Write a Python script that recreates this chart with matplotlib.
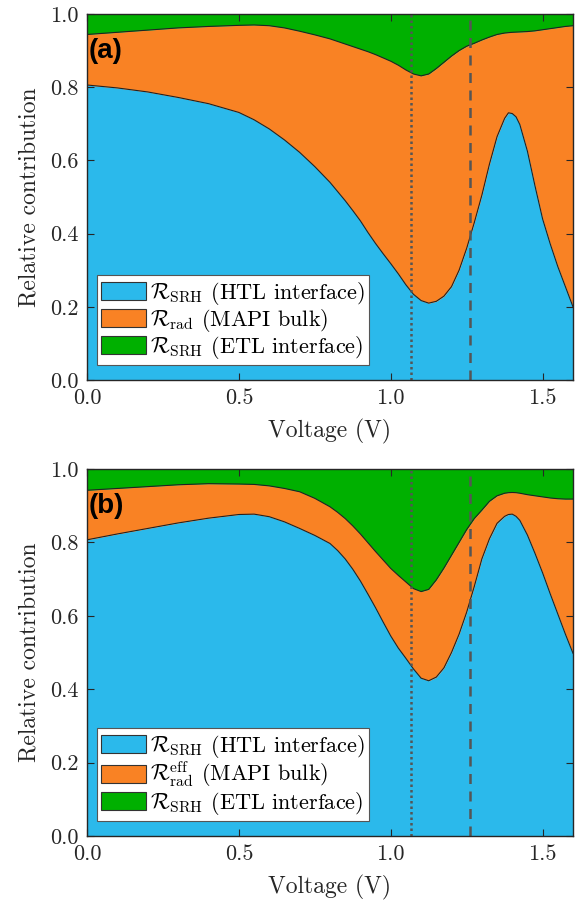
import matplotlib
matplotlib.use("Agg")
import matplotlib.pyplot as plt
from matplotlib.patches import Patch
import numpy as np

plt.rcParams['font.family'] = 'serif'
plt.rcParams['font.serif'] = ['cmr10', 'DejaVu Serif']
plt.rcParams['mathtext.fontset'] = 'cm'
plt.rcParams['axes.formatter.use_mathtext'] = True

# Voltage grid (V)
voltage = [0.0, 0.1, 0.2, 0.3, 0.4, 0.5, 0.55, 0.6, 0.65, 0.7, 0.75, 0.8,
           0.825, 0.85, 0.875, 0.9, 0.925, 0.95, 0.975, 1.0, 1.025, 1.05,
           1.075, 1.1, 1.125, 1.15, 1.175, 1.2, 1.225, 1.25, 1.275, 1.3,
           1.325, 1.35, 1.375, 1.3875, 1.4, 1.4125, 1.425, 1.45, 1.475, 1.5,
           1.525, 1.55, 1.575, 1.6]

# Panel (a): cumulative boundaries
a_htl = [0.806, 0.798, 0.787, 0.772, 0.755, 0.731, 0.711, 0.686, 0.656, 0.622, 0.583, 0.540,
         0.515, 0.490, 0.463, 0.435, 0.403, 0.373, 0.345, 0.318, 0.290, 0.260,
         0.234, 0.217, 0.210, 0.215, 0.229, 0.255, 0.300, 0.360, 0.430, 0.505,
         0.590, 0.665, 0.715, 0.730, 0.728, 0.719, 0.698, 0.625, 0.530, 0.440,
         0.372, 0.310, 0.255, 0.200]
a_htl_rad = [0.944, 0.950, 0.956, 0.962, 0.966, 0.969, 0.970, 0.968, 0.962, 0.953, 0.943, 0.932,
             0.925, 0.918, 0.911, 0.904, 0.897, 0.889, 0.880, 0.871, 0.860, 0.847,
             0.836, 0.831, 0.836, 0.851, 0.868, 0.885, 0.900, 0.912, 0.920, 0.929,
             0.937, 0.944, 0.948, 0.949, 0.950, 0.9505, 0.951, 0.952, 0.954, 0.957,
             0.960, 0.963, 0.966, 0.968]

# Panel (b): cumulative boundaries
b_htl = [0.807, 0.823, 0.838, 0.853, 0.866, 0.876, 0.877, 0.870, 0.856, 0.838, 0.819, 0.797,
         0.778, 0.755, 0.727, 0.695, 0.659, 0.622, 0.583, 0.545, 0.512, 0.484,
         0.455, 0.430, 0.423, 0.433, 0.458, 0.500, 0.550, 0.610, 0.680, 0.755,
         0.810, 0.852, 0.871, 0.876, 0.877, 0.871, 0.860, 0.820, 0.770, 0.717,
         0.660, 0.605, 0.550, 0.498]
b_htl_rad = [0.942, 0.947, 0.952, 0.957, 0.960, 0.959, 0.958, 0.954, 0.947, 0.938, 0.920, 0.897,
             0.882, 0.865, 0.845, 0.823, 0.799, 0.775, 0.752, 0.729, 0.710, 0.692,
             0.674, 0.666, 0.672, 0.698, 0.730, 0.765, 0.800, 0.835, 0.865, 0.888,
             0.912, 0.927, 0.934, 0.9355, 0.936, 0.9355, 0.934, 0.930, 0.927, 0.924,
             0.921, 0.919, 0.918, 0.918]

v_dotted = 1.067
v_dashed = 1.26

c_blue = '#2bb9eb'
c_orange = '#f98224'
c_green = '#00b000'

labels_a = [r'$\mathcal{R}_{\mathrm{SRH}}$ (HTL interface)',
            r'$\mathcal{R}_{\mathrm{rad}}$ (MAPI bulk)',
            r'$\mathcal{R}_{\mathrm{SRH}}$ (ETL interface)']
labels_b = [r'$\mathcal{R}_{\mathrm{SRH}}$ (HTL interface)',
            r'$\mathcal{R}_{\mathrm{rad}}^{\mathrm{eff}}$ (MAPI bulk)',
            r'$\mathcal{R}_{\mathrm{SRH}}$ (ETL interface)']

fig = plt.figure(figsize=(5.85, 9.07), dpi=100)
ax_a = fig.add_axes([87/585, 1-380/907, 486/585, 366/907])
ax_b = fig.add_axes([87/585, 1-836/907, 486/585, 367/907])

def draw(ax, htl, htl_rad, labels, tag):
    V = np.array(voltage)
    h = np.array(htl)
    hr = np.array(htl_rad)
    ax.fill_between(V, 0, h, color=c_blue, lw=0)
    ax.fill_between(V, h, hr, color=c_orange, lw=0)
    ax.fill_between(V, hr, 1, color=c_green, lw=0)
    ax.plot(V, h, color='#222222', lw=0.8)
    ax.plot(V, hr, color='#222222', lw=0.8)
    ax.axvline(v_dotted, color='#555555', ls=(0, (1, 1.2)), lw=1.8)
    ax.axvline(v_dashed, color='#555555', ls=(0, (4, 3)), lw=1.8)
    ax.set_xlim(0, 1.6)
    ax.set_ylim(0, 1)
    ax.set_xticks([0, 0.5, 1.0, 1.5])
    ax.set_xticklabels(['0.0', '0.5', '1.0', '1.5'])
    ax.set_yticks([0, 0.2, 0.4, 0.6, 0.8, 1.0])
    ax.set_yticklabels(['0.0', '0.2', '0.4', '0.6', '0.8', '1.0'])
    ax.tick_params(direction='in', top=True, right=True, length=5, width=0.8,
                   labelsize=16, colors='#262626', pad=6)
    for s in ax.spines.values():
        s.set_color('#262626')
        s.set_linewidth(1.0)
    ax.set_xlabel('Voltage (V)', fontsize=17, color='#262626', labelpad=8)
    ax.set_ylabel('Relative contribution', fontsize=17, color='#262626')
    handles = [Patch(facecolor=c_blue, edgecolor='#333333', lw=0.8),
               Patch(facecolor=c_orange, edgecolor='#333333', lw=0.8),
               Patch(facecolor=c_green, edgecolor='#333333', lw=0.8)]
    leg = ax.legend(handles, labels, loc='lower left', bbox_to_anchor=(0.02, 0.04),
                    fontsize=16, frameon=True, fancybox=False, edgecolor='#555555',
                    framealpha=1, handlelength=2.0, handleheight=0.85,
                    handletextpad=0.2, labelspacing=0.0, borderpad=0.2,
                    borderaxespad=0)
    leg.get_frame().set_linewidth(0.8)
    ax.text(0.003, 0.9, tag, transform=ax.transAxes, fontsize=20,
            fontweight='bold', family='Liberation Sans', va='center', ha='left')

draw(ax_a, a_htl, a_htl_rad, labels_a, '(a)')
draw(ax_b, b_htl, b_htl_rad, labels_b, '(b)')

ax_a.yaxis.set_label_coords(-0.095, 0.5)
ax_b.yaxis.set_label_coords(-0.095, 0.5)

fig.savefig('out.png', dpi=100)
